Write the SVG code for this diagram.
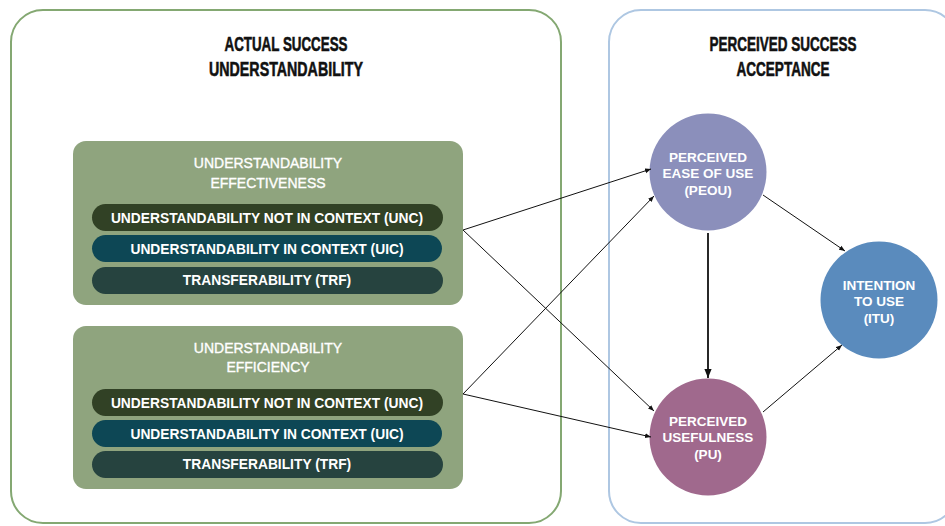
<svg xmlns="http://www.w3.org/2000/svg" width="945" height="526" viewBox="0 0 945 526">
<defs>
<marker id="ah" viewBox="0 0 10 10" refX="10" refY="5" markerWidth="6" markerHeight="6" markerUnits="userSpaceOnUse" orient="auto">
<path d="M0,1 L10,5 L0,9 z" fill="#111"/>
</marker>
<marker id="ahb" viewBox="0 0 10 10" refX="10" refY="5" markerWidth="9" markerHeight="9" markerUnits="userSpaceOnUse" orient="auto">
<path d="M0,1 L10,5 L0,9 z" fill="#111"/>
</marker>
</defs>
<style>
.title{font-family:"Liberation Sans",Arial,sans-serif;font-weight:bold;font-size:21px;fill:#111;stroke:#111;stroke-width:0.6px;text-anchor:middle}
.btitle{font-family:"Liberation Sans",Arial,sans-serif;font-size:14px;fill:#fff;stroke:#fff;stroke-width:0.35px;text-anchor:middle}
.pill{font-family:"Liberation Sans",Arial,sans-serif;font-weight:bold;font-size:13.8px;fill:#fff;text-anchor:middle}
.ctext{font-family:"Liberation Sans",Arial,sans-serif;font-weight:bold;font-size:13.5px;fill:#fff;text-anchor:middle}
.box{fill:#8fa47e}
.unc{fill:#314125}
.uic{fill:#0d4755}
.trf{fill:#26433f}
.conn{stroke:#111;stroke-width:1;fill:none;marker-end:url(#ah)}
</style>
<rect width="945" height="526" fill="#fff"/>
<g id="panel-actual">
<rect x="11" y="10" width="550" height="513" rx="32" fill="#fff" stroke="#84a872" stroke-width="2"/>
<text class="title" x="286" y="51" textLength="123" lengthAdjust="spacingAndGlyphs">ACTUAL SUCCESS</text>
<text class="title" x="286" y="76" textLength="154" lengthAdjust="spacingAndGlyphs">UNDERSTANDABILITY</text>
</g>
<g id="panel-perceived">
<rect x="609" y="10" width="348" height="513" rx="32" fill="#fff" stroke="#aec7e2" stroke-width="2"/>
<text class="title" x="783" y="51" textLength="147" lengthAdjust="spacingAndGlyphs">PERCEIVED SUCCESS</text>
<text class="title" x="783" y="76" textLength="93" lengthAdjust="spacingAndGlyphs">ACCEPTANCE</text>
</g>
<g id="effectiveness">
<rect class="box" x="73" y="141" width="390" height="164" rx="13"/>
<text class="btitle" x="268" y="168">UNDERSTANDABILITY</text>
<text class="btitle" x="268" y="188">EFFECTIVENESS</text>
<rect class="unc" x="92" y="204" width="351" height="27" rx="13.5"/>
<text class="pill" x="267" y="223">UNDERSTANDABILITY NOT IN CONTEXT (UNC)</text>
<rect class="uic" x="92" y="235" width="350" height="27" rx="13.5"/>
<text class="pill" x="267" y="254">UNDERSTANDABILITY IN CONTEXT (UIC)</text>
<rect class="trf" x="92" y="267" width="351" height="27" rx="13.5"/>
<text class="pill" x="267" y="285">TRANSFERABILITY (TRF)</text>
</g>
<g id="efficiency">
<rect class="box" x="73" y="326" width="390" height="163" rx="13"/>
<text class="btitle" x="268" y="353">UNDERSTANDABILITY</text>
<text class="btitle" x="268" y="372">EFFICIENCY</text>
<rect class="unc" x="92" y="389" width="351" height="27" rx="13.5"/>
<text class="pill" x="267" y="408">UNDERSTANDABILITY NOT IN CONTEXT (UNC)</text>
<rect class="uic" x="92" y="420" width="350" height="27" rx="13.5"/>
<text class="pill" x="267" y="439">UNDERSTANDABILITY IN CONTEXT (UIC)</text>
<rect class="trf" x="92" y="451" width="351" height="27" rx="13.5"/>
<text class="pill" x="267" y="469">TRANSFERABILITY (TRF)</text>
</g>
<g id="peou">
<circle cx="708" cy="172" r="58.5" fill="#8b8fbb"/>
<text class="ctext" x="708" y="162">PERCEIVED</text>
<text class="ctext" x="708" y="178">EASE OF USE</text>
<text class="ctext" x="708" y="195">(PEOU)</text>
</g>
<g id="pu">
<circle cx="708" cy="437" r="58.5" fill="#a0698d"/>
<text class="ctext" x="708" y="426">PERCEIVED</text>
<text class="ctext" x="708" y="442">USEFULNESS</text>
<text class="ctext" x="708" y="459">(PU)</text>
</g>
<g id="itu">
<circle cx="879" cy="300" r="58.5" fill="#5a8bbd"/>
<text class="ctext" x="879" y="290">INTENTION</text>
<text class="ctext" x="879" y="306">TO USE</text>
<text class="ctext" x="879" y="323">(ITU)</text>
</g>
<g id="connectors">
<line class="conn" x1="463" y1="230" x2="651" y2="169"/>
<line class="conn" x1="463" y1="230" x2="654" y2="411"/>
<line class="conn" x1="463" y1="394" x2="654" y2="196"/>
<line class="conn" x1="463" y1="394" x2="651" y2="437"/>
<line x1="708" y1="233" x2="708" y2="378" stroke="#111" stroke-width="1.8" marker-end="url(#ahb)"/>
<line class="conn" x1="763" y1="195" x2="845" y2="251"/>
<line class="conn" x1="763" y1="412" x2="842" y2="345"/>
</g>
</svg>
